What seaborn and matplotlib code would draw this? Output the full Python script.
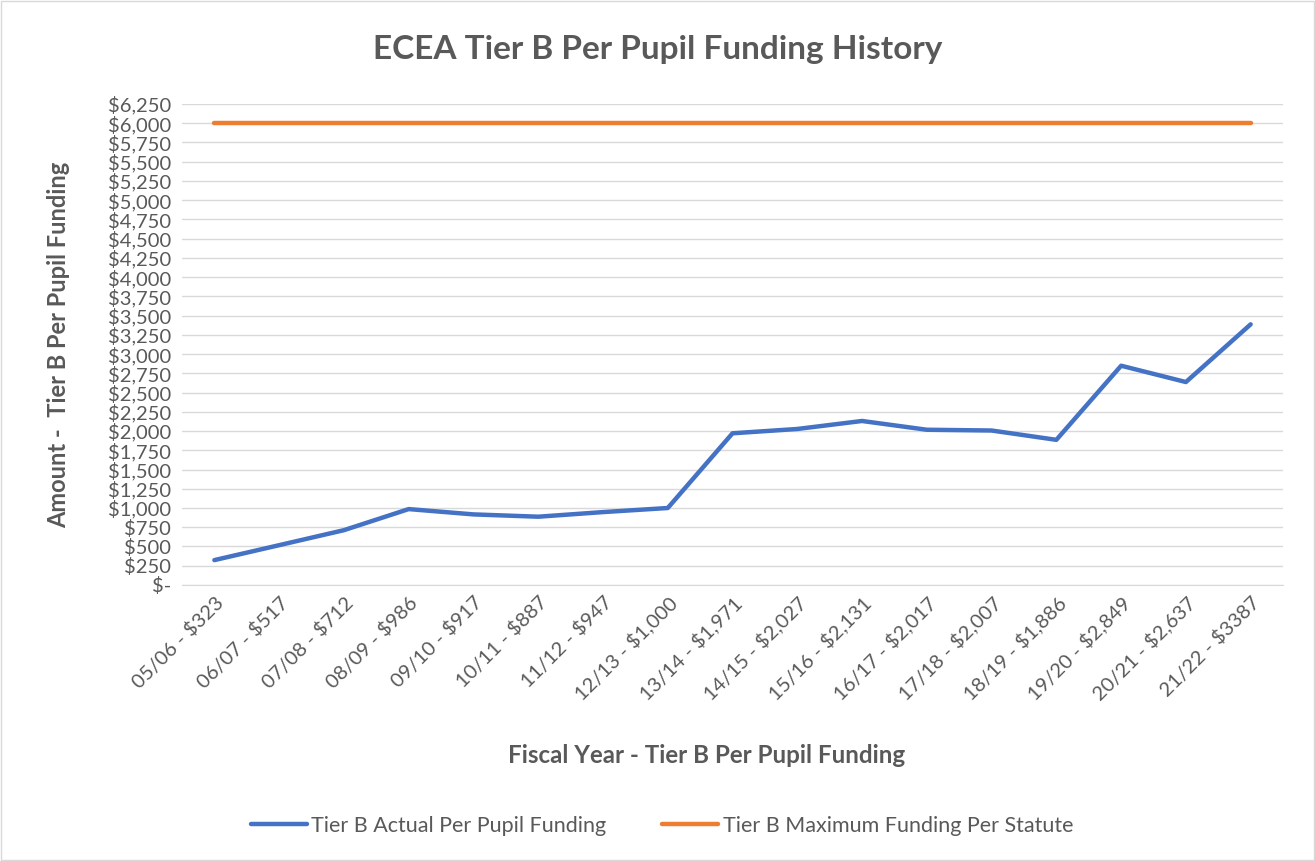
import matplotlib
matplotlib.use("Agg")
import matplotlib.pyplot as plt
import matplotlib.ticker as mticker
import seaborn as sns
import pandas as pd

years = ["05/06", "06/07", "07/08", "08/09", "09/10", "10/11", "11/12", "12/13",
         "13/14", "14/15", "15/16", "16/17", "17/18", "18/19", "19/20", "20/21", "21/22"]
actual = [323, 517, 712, 986, 917, 887, 947, 1000, 1971, 2027, 2131, 2017, 2007,
          1886, 2849, 2637, 3387]
amount_text = ["$323", "$517", "$712", "$986", "$917", "$887", "$947", "$1,000",
               "$1,971", "$2,027", "$2,131", "$2,017", "$2,007", "$1,886", "$2,849",
               "$2,637", "$3387"]
maximum = [6000] * len(years)

labels = [f"{y} - {a}" for y, a in zip(years, amount_text)]

df = pd.DataFrame({
    "label": labels * 2,
    "value": actual + maximum,
    "series": ["Tier B Actual Per Pupil Funding"] * len(labels)
              + ["Tier B Maximum Funding Per Statute"] * len(labels),
})

sns.set_style("white")
plt.rcParams["font.family"] = ["Lato", "DejaVu Sans"]
grey = "#595959"

fig = plt.figure(figsize=(13.15, 8.61), dpi=100)
ax = fig.add_axes([0.1384, 0.3206, 0.8373, 0.5586])

sns.lineplot(data=df, x="label", y="value", hue="series",
             palette=["#4472C4", "#ED7D31"], linewidth=3.2, ax=ax, sort=False)

ax.set_xlim(-0.5, len(labels) - 0.5)
ax.set_ylim(0, 6250)
ax.yaxis.set_major_locator(mticker.MultipleLocator(250))
ax.yaxis.set_major_formatter(mticker.FuncFormatter(
    lambda v, p: "$-" if v == 0 else f"${v:,.0f}"))
ax.grid(axis="y", color="#d9d9d9", linewidth=1)
for s in ["top", "right", "left"]:
    ax.spines[s].set_visible(False)
ax.spines["bottom"].set_color("#d9d9d9")
ax.tick_params(axis="both", length=0, labelsize=14.5, colors=grey)
ax.tick_params(axis="y", pad=8)
ax.tick_params(axis="x", pad=6)
plt.setp(ax.get_xticklabels(), rotation=45, ha="right", rotation_mode="anchor")

ax.set_xlabel("Fiscal Year - Tier B Per Pupil Funding", fontsize=17.4,
              fontweight="bold", color=grey)
ax.xaxis.set_label_coords(0.476, -0.33)
ax.set_ylabel("Amount -  Tier B Per Pupil Funding", fontsize=17,
              fontweight="bold", color=grey, labelpad=27)
fig.text(0.5, 0.942, "ECEA Tier B Per Pupil Funding History", ha="center",
         va="center", fontsize=24, fontweight="bold", color=grey)

leg = ax.legend(loc="center", bbox_to_anchor=(0.436, -0.501), ncol=2,
                frameon=False, fontsize=15.5, handlelength=2.6,
                handletextpad=0.2, columnspacing=2.6)
for t in leg.get_texts():
    t.set_color(grey)

fig.patches.append(plt.Rectangle((0.001, 0.001), 0.998, 0.998,
                                 transform=fig.transFigure, fill=False,
                                 edgecolor="#d9d9d9", linewidth=1))
fig.savefig("out.png", dpi=100)
